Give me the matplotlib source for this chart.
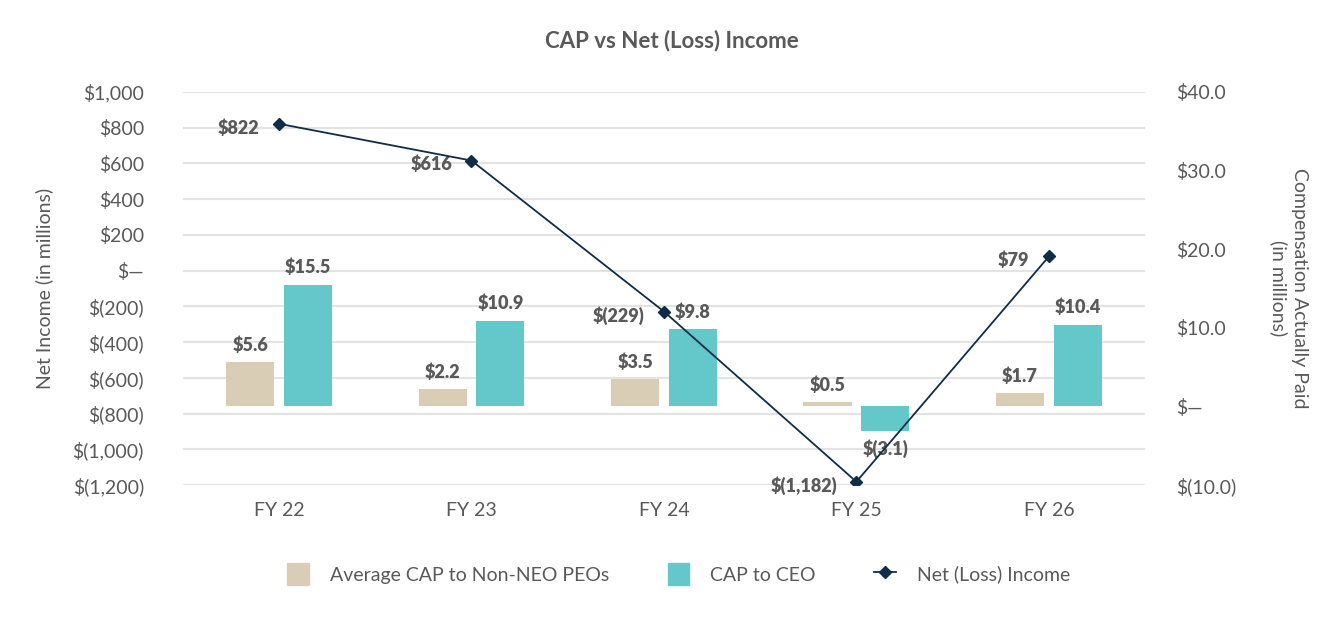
import numpy as np
import matplotlib
matplotlib.use('Agg')
import matplotlib.pyplot as plt
from matplotlib.lines import Line2D
from matplotlib.patches import Patch

plt.rcParams['font.family'] = ['Lato', 'DejaVu Sans']

# Data
years = ['FY 22', 'FY 23', 'FY 24', 'FY 25', 'FY 26']
cap_non_neo = [5.6, 2.2, 3.5, 0.5, 1.7]
cap_ceo = [15.5, 10.9, 9.8, -3.1, 10.4]
net_income = [822, 616, -229, -1182, 79]

left_ticks = list(range(-1200, 1001, 200))
right_ticks = [-10, 0, 10, 20, 30, 40]

beige = '#D9CEB5'
teal = '#64C7C9'
navy = '#0F2D48'
txt = '#595959'


def fmt_left(v):
    if v == 0:
        return '$\u2014'
    if v < 0:
        return '$({:,})'.format(-v)
    return '${:,}'.format(v)


def fmt_right(v):
    if v == 0:
        return '$\u2014'
    if v < 0:
        return '$({:.1f})'.format(-v)
    return '${:.1f}'.format(v)


fig = plt.figure(figsize=(13.44, 6.24), dpi=100)
ax = fig.add_axes([0.136, 0.2228, 0.716, 0.6298])
ax2 = ax.twinx()

x = np.arange(len(years))
w = 0.25
off = 0.15

# bars on right axis
ax2.bar(x - off, cap_non_neo, w, color=beige, zorder=2)
ax2.bar(x + off, cap_ceo, w, color=teal, zorder=2)
for i in range(len(years)):
    for xx, v in [(x[i] - off, cap_non_neo[i]), (x[i] + off, cap_ceo[i])]:
        if v >= 0:
            ax2.annotate('${:.1f}'.format(v), (xx, v), xytext=(0, 6), textcoords='offset points',
                         ha='center', va='bottom', fontsize=13, fontweight='heavy', color=txt)
        else:
            ax2.annotate('$({:.1f})'.format(-v), (xx, v), xytext=(0, -6), textcoords='offset points',
                         ha='center', va='top', fontsize=13, fontweight='heavy', color=txt)

# line on left axis, drawn on top via twin
ax3 = ax.twinx()
ax3.plot(x, net_income, color=navy, lw=1.3, marker='D', ms=6, zorder=5)
for i, v in enumerate(net_income):
    ax3.annotate(fmt_left(v), (x[i], v), xytext=(-14, -3), textcoords='offset points',
                 ha='right', va='center', fontsize=13, fontweight='heavy', color=txt)

ax.set_ylim(-1200, 1000)
ax3.set_ylim(-1200, 1000)
ax2.set_ylim(-10, 40)
ax.set_xlim(-0.5, 4.5)

ax.set_yticks(left_ticks)
ax.set_yticklabels([fmt_left(v) for v in left_ticks])
ax2.set_yticks(right_ticks)
ax2.set_yticklabels([fmt_right(v) for v in right_ticks])
ax3.set_yticks([])
ax.set_xticks(x)
ax.set_xticklabels(years)

ax.grid(axis='y', color='#E3E3E3', lw=1.5, zorder=0)
ax.set_axisbelow(True)

for a in (ax, ax2, ax3):
    for s in a.spines.values():
        s.set_visible(False)
    a.tick_params(length=0, labelsize=14, colors=txt)
ax.tick_params(axis='y', pad=28)
ax.tick_params(axis='x', pad=12)
ax2.tick_params(axis='y', pad=22)

ax.set_ylabel('Net Income (in millions)', fontsize=14, color=txt, labelpad=14)
ax2.set_ylabel('Compensation Actually Paid\n(in millions)', fontsize=14, color=txt,
               rotation=270, labelpad=52)

fig.suptitle('CAP vs Net (Loss) Income', fontsize=16, fontweight='bold', color=txt, y=0.952)

handles = [Patch(color=beige), Patch(color=teal),
           Line2D([0], [0], color=navy, marker='D', ms=6, lw=1.3)]
labels = ['Average CAP to Non-NEO PEOs', 'CAP to CEO', 'Net (Loss) Income']
leg = fig.legend(handles, labels, loc='center', bbox_to_anchor=(0.505, 0.08), ncol=3,
                 frameon=False, fontsize=14, handlelength=1.1, handleheight=1.3,
                 columnspacing=3.0, handletextpad=1.1)
for t in leg.get_texts():
    t.set_color(txt)

fig.savefig('out.png', dpi=100)
